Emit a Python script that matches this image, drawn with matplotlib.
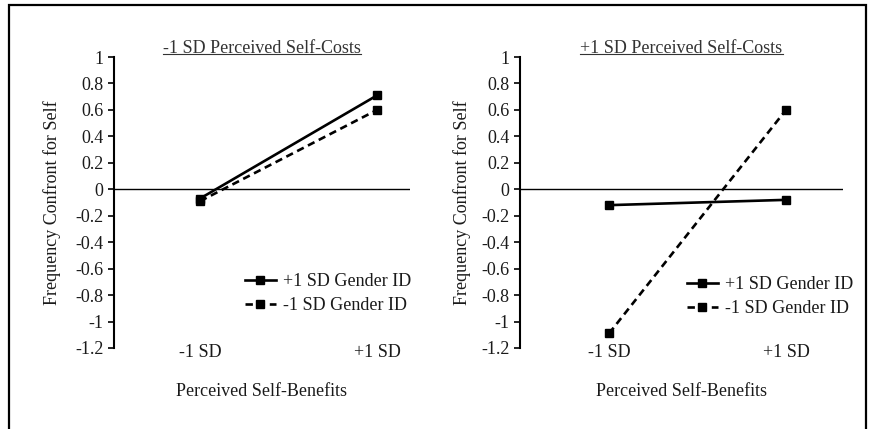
import matplotlib
matplotlib.use("Agg")
import matplotlib.pyplot as plt
from matplotlib.patches import Rectangle
from matplotlib.lines import Line2D

plt.rcParams["font.family"] = ["Liberation Serif", "DejaVu Serif"]
plt.rcParams["axes.unicode_minus"] = False

# data
benefit_levels = ["-1 SD", "+1 SD"]
panel_titles = ["-1 SD Perceived Self-Costs", "+1 SD Perceived Self-Costs"]
series_names = ["+1 SD Gender ID", "-1 SD Gender ID"]
low_costs_high_id = [-0.07, 0.71]
low_costs_low_id = [-0.09, 0.60]
high_costs_high_id = [-0.12, -0.08]
high_costs_low_id = [-1.09, 0.60]
y_ticks = [1, 0.8, 0.6, 0.4, 0.2, 0, -0.2, -0.4, -0.6, -0.8, -1, -1.2]

TXT = "#1a1a1a"
FS = 13

fig = plt.figure(figsize=(8.69, 4.29), dpi=100)
W, H = 869, 429


def px_axes(x0, x1, y0, y1):
    return fig.add_axes([x0 / W, 1 - y1 / H, (x1 - x0) / W, (y1 - y0) / H])


def draw_panel(ax, title, high_vals, low_vals, xlim, ylab_x, leg_xy):
    xs = list(range(len(benefit_levels)))
    ax.axhline(0, color="black", lw=1.0, zorder=1)
    ax.plot(xs, high_vals, color="black", lw=1.9, marker="s", ms=5.5,
            label=series_names[0], zorder=3)
    ax.plot(xs, low_vals, color="black", lw=1.9, ls=(0, (2.8, 1.8)),
            marker="s", ms=5.5, label=series_names[1], zorder=3)
    ax.set_xlim(*xlim)
    ax.set_ylim(-1.2, 1.0)
    ax.set_yticks(y_ticks)
    ax.set_yticklabels([f"{v:g}" for v in y_ticks])
    ax.set_xticks(xs)
    ax.set_xticklabels(benefit_levels)
    for s in ["top", "right", "bottom"]:
        ax.spines[s].set_visible(False)
    ax.spines["left"].set_linewidth(1.5)
    ax.tick_params(axis="y", direction="out", length=4, width=1.2,
                   labelsize=FS, labelcolor=TXT, pad=3.5)
    ax.tick_params(axis="x", length=0, labelsize=FS, labelcolor=TXT, pad=-3)
    ax.set_xlabel("Perceived Self-Benefits", fontsize=FS, color=TXT)
    ax.xaxis.set_label_coords(0.5, -0.12)
    ax.set_ylabel("Frequency Confront for Self", fontsize=FS, color=TXT)
    ax.yaxis.set_label_coords(ylab_x, 0.5)
    ax.set_title(title, fontsize=FS, color="#333333", pad=2)
    ax.legend(loc="upper left", bbox_to_anchor=leg_xy, frameon=False,
              fontsize=FS, borderpad=0, borderaxespad=0, handlelength=1.7,
              handletextpad=0.4, labelspacing=0.4, labelcolor=TXT)


ax1 = px_axes(114, 410, 57, 348)
draw_panel(ax1, panel_titles[0], low_costs_high_id, low_costs_low_id,
           (-0.486, 1.186), -0.18, (0.4426, 0.258))
ax2 = px_axes(520, 843, 57, 348)
draw_panel(ax2, panel_titles[1], high_costs_high_id, high_costs_low_id,
           (-0.503, 1.322), -0.152, (0.517, 0.248))

# outer frame (bottom edge is cut off in the original)
fig.patches.append(Rectangle((8.5 / W, -0.1), (866 - 8.5) / W, 1.1 - 5.5 / H,
                             transform=fig.transFigure, fill=False,
                             edgecolor="black", lw=1.6, clip_on=False))

# underline the panel titles
fig.canvas.draw()
renderer = fig.canvas.get_renderer()
for ax in (ax1, ax2):
    bb = ax.title.get_window_extent(renderer)
    y = bb.y0 + 2.5
    fig.add_artist(Line2D([bb.x0, bb.x1], [y, y], transform=None,
                          color="#333333", lw=0.8))

fig.savefig("out.png", dpi=100)
